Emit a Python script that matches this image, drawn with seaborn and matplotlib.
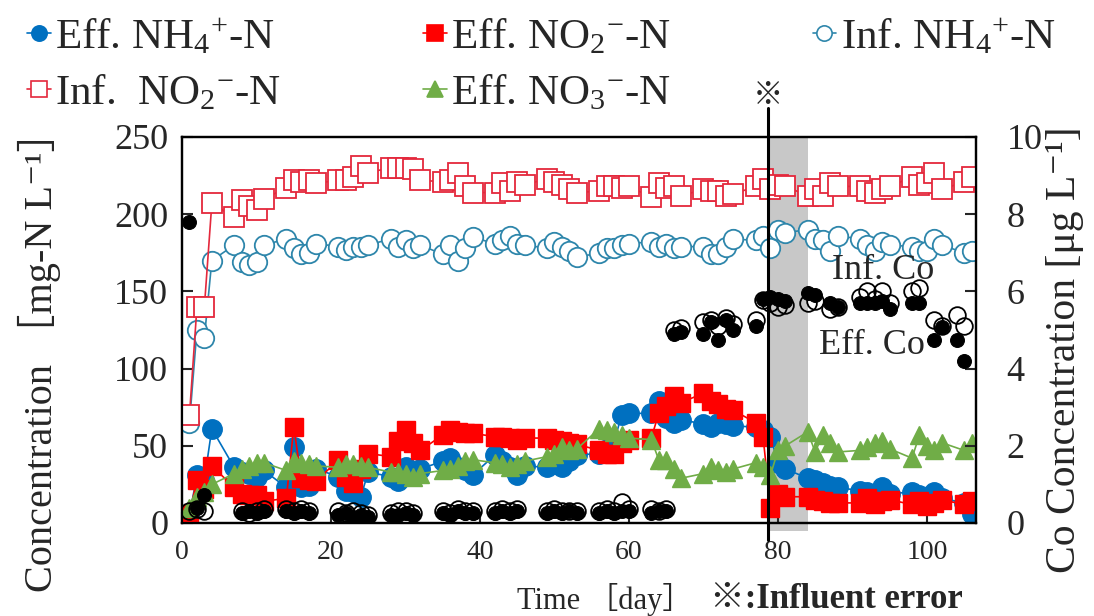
import matplotlib
matplotlib.use("Agg")
import matplotlib.pyplot as plt
import seaborn as sns
from matplotlib.lines import Line2D

# -------------------------
# data
# -------------------------
days = [1, 2, 3, 4,
        7, 8, 9, 10, 11,
        14, 15, 16, 17, 18,
        21, 22, 23, 24, 25,
        28, 29, 30, 31, 32,
        35, 36, 37, 38, 39,
        42, 43, 44, 45, 46,
        49, 50, 51, 52, 53,
        56, 57, 58, 59, 60,
        63, 64, 65, 66, 67,
        70, 71, 72, 73, 74,
        77, 78, 79, 80, 81,
        84, 85, 86, 87, 88,
        91, 92, 93, 94, 95,
        98, 99, 100, 101, 102,
        105, 106]

eff_nh4 = [5, 31, 28, 61,
           36, 33, 32, 30, 34,
           23, 49, 23, 24, 35,
           30, 21, 20, 17, 33,
           30, 27, 36, 33, 35,
           40, 42, 36, 34, 31,
           44, 40, 36, 31, 37,
           36, 38, 36, 40, 44,
           45, 48, 52, 70, 71,
           71, 79, 68, 65, 67,
           64, 62, 65, 64, 63,
           62, 60, 56, 39, 35,
           29, 28, 26, 24, 23,
           21, 20, 19, 23, 19,
           20, 18, 17, 20, 16,
           13, 6]

eff_no2 = [6, 28, 22, 37,
           23, 19, 18, 18, 14,
           16, 62, 29, 28, 27,
           41, 30, 26, 35, 45,
           43, 53, 60, 52, 47,
           57, 60, 59, 58, 58,
           56, 56, 55, 54, 55,
           55, 54, 53, 52, 51,
           47, 45, 45, 52, 54,
           55, 71, 76, 82, 78,
           84, 79, 77, 74, 73,
           65, 56, 10, 19, 17,
           17, 15, 14, 13, 13,
           13, 16, 12, 14, 15,
           12, 14, 11, 13, 15,
           12, 14]

inf_nh4 = [65, 125, 120, 170,
           180, 169, 167, 169, 180,
           184, 178, 174, 175, 181,
           179, 177, 179, 179, 180,
           184, 179, 183, 178, 180,
           174, 180, 170, 178, 185,
           181, 183, 186, 181, 180,
           178, 182, 179, 176, 172,
           175, 178, 178, 180, 181,
           182, 179, 181, 178, 179,
           179, 174, 174, 179, 184,
           183, 186, 178, 190, 188,
           190, 184, 183, 176, 186,
           184, 180, 176, 182, 180,
           179, 176, 176, 184, 180,
           175, 176]

inf_no2 = [70, 140, 140, 207,
           198, 209, 205, 203, 210,
           217, 222, 221, 222, 220,
           222, 222, 224, 231, 227,
           230, 230, 230, 229, 222,
           221, 222, 227, 218, 214,
           214, 220, 215, 221, 219,
           223, 221, 219, 216, 214,
           215, 218, 218, 217, 218,
           211, 220, 217, 218, 212,
           216, 215, 215, 212, 213,
           218, 223, 216, 219, 218,
           212, 216, 212, 220, 218,
           218, 215, 214, 216, 218,
           224, 219, 220, 227, 216,
           221, 224]

eff_no3 = [10, 17, 20, 25,
           32, 35, 37, 39, 39,
           34, 40, 39, 38, 37,
           36, 38, 38, 37, 36,
           33, 33, 32, 30, 32,
           34, 35, 37, 40, 41,
           39, 38, 36, 38, 40,
           43, 45, 49, 47, 48,
           61, 60, 59, 57, 55,
           54, 41, 41, 35, 29,
           32, 36, 34, 33, 35,
           39, 36, 31, 47, 50,
           59, 46, 57, 52, 46,
           47, 49, 52, 53, 48,
           42, 57, 50, 47, 52,
           47, 52]

co_days = [1, 2, 3,
           8, 9, 10, 11,
           14, 15, 16, 17,
           21, 22, 23, 24, 25,
           28, 29, 30, 31,
           35, 36, 37, 38, 39,
           42, 43, 44, 45,
           49, 50, 51, 52, 53,
           56, 57, 58, 59, 60,
           63, 64, 65,
           66, 67, 70, 71, 72, 73, 74,
           77, 78, 79, 80, 81,
           84, 85, 87, 88,
           91, 92, 93, 94, 95,
           98, 99, 101, 102, 104, 105]

inf_co = [0.3, 0.35, 0.3,
          0.3, 0.25, 0.3, 0.35,
          0.35, 0.3, 0.35, 0.3,
          0.3, 0.25, 0.3, 0.25, 0.2,
          0.25, 0.3, 0.3, 0.25,
          0.3, 0.25, 0.35, 0.3, 0.3,
          0.3, 0.35, 0.3, 0.35,
          0.3, 0.35, 0.3, 0.3, 0.3,
          0.3, 0.35, 0.3, 0.55, 0.35,
          0.35, 0.3, 0.35,
          5.0, 5.05, 5.2, 5.25, 5.1, 5.3, 5.15,
          5.25, 5.78, 5.7, 5.6, 5.65,
          5.7, 5.75, 5.55, 5.6,
          5.85, 6.0, 5.8, 6.0, 5.7,
          6.0, 6.1, 5.25, 5.1, 5.4, 5.1]

eff_co = [7.8, 0.4, 0.72,
          0.25, 0.3, 0.25, 0.3,
          0.3, 0.25, 0.3, 0.25,
          0.2, 0.25, 0.15, 0.2, 0.15,
          0.2, 0.2, 0.25, 0.2,
          0.25, 0.2, 0.3, 0.25, 0.25,
          0.25, 0.3, 0.25, 0.3,
          0.25, 0.3, 0.25, 0.3, 0.25,
          0.25, 0.3, 0.25, 0.3, 0.3,
          0.25, 0.3, 0.3,
          4.9, 4.95, 4.9, 5.2, 4.75, 5.25, 5.0,
          5.1, 5.8, 5.85, 5.8, 5.75,
          5.95, 5.9, 5.7, 5.6,
          5.7, 5.7, 5.7, 5.75, 5.55,
          5.7, 5.7, 4.75, 5.08, 4.75, 4.2]

error_day = 78.7
error_end = 84.0

# -------------------------
# style
# -------------------------
sns.set_style("ticks")
plt.rcParams["font.family"] = ["Liberation Serif", "Noto Sans CJK JP", "DejaVu Sans"]
plt.rcParams["mathtext.fontset"] = "custom"
plt.rcParams["mathtext.rm"] = "Liberation Serif"
plt.rcParams["mathtext.it"] = "Liberation Serif:italic"
plt.rcParams["mathtext.bf"] = "Liberation Serif:bold"

c_blue = "#0070C0"
c_red = "#FF0000"
c_inf_nh4 = "#2E86AB"
c_inf_no2 = "#E4283C"
c_green = "#70AD47"

fig = plt.figure(figsize=(10.94, 6.16), dpi=100)
ax = fig.add_axes([0.1664, 0.151, 0.7258, 0.6266])
ax2 = ax.twinx()

# influent error band
ax.axvspan(error_day, error_end, ymin=-0.02, ymax=1, color="#c8c8c8", zorder=0,
           clip_on=False, lw=0)

# -------------------------
# N species (left axis)
# -------------------------
sns.lineplot(x=days, y=eff_nh4, ax=ax, color=c_blue, lw=1.2, marker="o",
             markersize=14, markeredgecolor=c_blue, markeredgewidth=1, zorder=2)
sns.lineplot(x=days, y=eff_no2, ax=ax, color=c_red, lw=1.2, marker="s",
             markersize=13, markeredgecolor=c_red, markeredgewidth=1, zorder=3)
sns.lineplot(x=days, y=eff_no3, ax=ax, color=c_green, lw=1.2, marker="^",
             markersize=13, markeredgecolor=c_green, markeredgewidth=1, zorder=4)
sns.lineplot(x=days, y=inf_nh4, ax=ax, color=c_inf_nh4, lw=1.2, marker="o",
             markersize=14, markerfacecolor="white", markeredgecolor=c_inf_nh4,
             markeredgewidth=1.3, zorder=4)
sns.lineplot(x=days, y=inf_no2, ax=ax, color=c_inf_no2, lw=1.2, marker="s",
             markersize=14, markerfacecolor="white", markeredgecolor=c_inf_no2,
             markeredgewidth=1.3, zorder=4)

# -------------------------
# Co (right axis)
# -------------------------
sns.lineplot(x=co_days, y=inf_co, ax=ax2, linestyle="none", marker="o",
             markersize=12, markerfacecolor="none", markeredgecolor="black",
             markeredgewidth=1.3)
sns.lineplot(x=co_days, y=eff_co, ax=ax2, linestyle="none", marker="o",
             markersize=10, color="black", markeredgecolor="black")

ax2.axvline(error_day, ymin=-0.045, ymax=1.075, color="black", lw=2.2,
            clip_on=False, zorder=10)

# -------------------------
# axes
# -------------------------
ax.set_xlim(0, 106.6)
ax.set_ylim(0, 250)
ax.set_xticks([0, 20, 40, 60, 80, 100])
ax.set_yticks([0, 50, 100, 150, 200, 250])
ax2.set_ylim(0, 10)
ax2.set_yticks([0, 2, 4, 6, 8, 10])

ax.tick_params(axis="y", direction="in", length=8, width=1.5, labelsize=26, pad=10)
ax.tick_params(axis="x", direction="in", length=8, width=1.5, labelsize=20, pad=12)
ax2.tick_params(axis="y", direction="in", length=8, width=1.5, labelsize=26, pad=22)

for a in (ax, ax2):
    for sp in a.spines.values():
        sp.set_linewidth(1.6)
        sp.set_color("black")
        sp.set_visible(True)

ax.set_xlabel("")
ax.set_ylabel("Concentration ［mg-N L⁻¹］", fontsize=29)
ax.yaxis.set_label_coords(-0.153, 0.443)
ax2.set_ylabel("Co Concentration [μg L⁻¹]", fontsize=30, rotation=90)
ax2.yaxis.set_label_coords(1.088, 0.45)

fig.text(605 / 1094, 1 - 600 / 616, "Time ［day］", ha="center", va="center", fontsize=22)
fig.text(710 / 1094, 1 - 600 / 616, "※:Influent error", ha="left", va="center",
         fontsize=25, fontweight="bold")
fig.text(768 / 1094, 1 - 95 / 616, "※", ha="center", va="center", fontsize=22)

ax2.text(94.1, 6.55, "Inf. Co", ha="center", va="center", fontsize=26)
ax2.text(92.6, 4.61, "Eff. Co", ha="center", va="center", fontsize=26)

# -------------------------
# legend
# -------------------------
def handle(color, marker, face, ms):
    return Line2D([], [], color=color, lw=1.2, marker=marker, markersize=ms,
                  markerfacecolor=face, markeredgecolor=color, markeredgewidth=1.2)

h_eff_nh4 = handle(c_blue, "o", c_blue, 11)
h_eff_no2 = handle(c_red, "s", c_red, 11)
h_inf_nh4 = handle(c_inf_nh4, "o", "white", 11)
h_inf_no2 = handle(c_inf_no2, "s", "white", 11)
h_eff_no3 = handle(c_green, "^", c_green, 11)

fig.legend(handles=[h_eff_nh4, h_inf_no2, h_eff_no2, h_eff_no3, h_inf_nh4],
           labels=["Eff. NH$_4$$^{+}$-N", "Inf.  NO$_2$$^{-}$-N",
                   "Eff. NO$_2$$^{-}$-N", "Eff. NO$_3$$^{-}$-N",
                   "Inf. NH$_4$$^{+}$-N"],
           ncol=3, loc="upper left", bbox_to_anchor=(0.025, 0.972), frameon=False,
           fontsize=31, handlelength=0.55, handletextpad=0.1, columnspacing=3.3,
           labelspacing=0.38, borderpad=0, borderaxespad=0)

fig.savefig("out.png", dpi=100)
